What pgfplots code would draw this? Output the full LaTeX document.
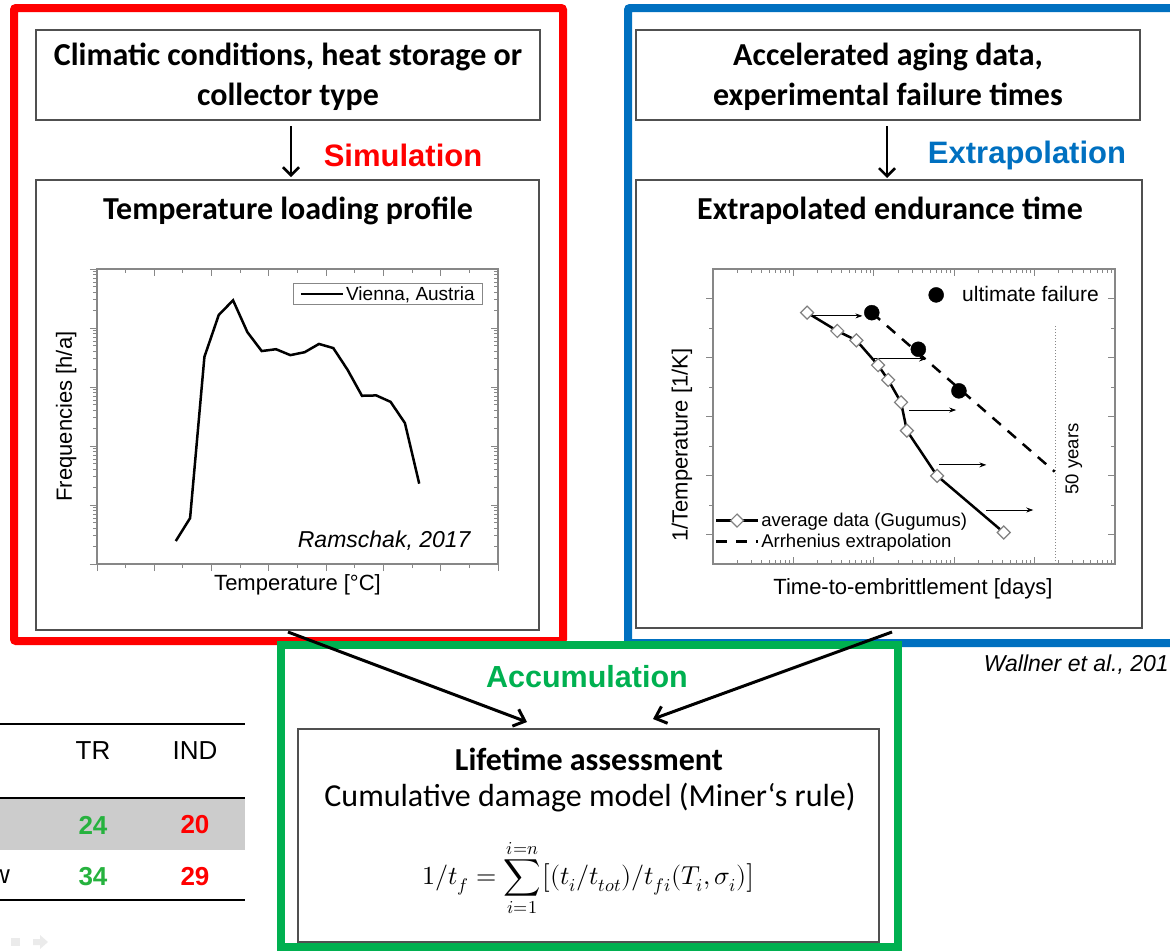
\documentclass[border=0pt]{standalone}
\usepackage{fontspec}
\usepackage{unicode-math}
\setmainfont{Liberation Sans}
\setmathfont{Latin Modern Math}
\newfontfamily\calibri{Carlito}
\usepackage{pgfplots}
\usepackage{pgfplotstable}
\pgfplotsset{compat=1.18}
\usetikzlibrary{arrows.meta}

\definecolor{frRed}{RGB}{255,0,0}
\definecolor{frBlue}{RGB}{0,112,192}
\definecolor{frGreen}{RGB}{0,176,80}
\definecolor{tabGreen}{RGB}{38,178,62}
\definecolor{boxGray}{RGB}{80,80,80}
\definecolor{axGray}{RGB}{135,135,135}
\newcommand{\fs}[2]{\fontsize{#1}{#2}\selectfont}

% temperature loading profile (Vienna)
\pgfplotstableread{
T F
27.5 0.245
32.5 0.60
37.5 324
42.5 1660
47.5 2950
52.5 851
57.5 407
62.5 437
67.5 347
72.5 389
77.5 537
82.5 457
87.5 195
92.5 71
97.5 72
102.5 56
107.5 24.5
112.5 2.3
}\vienna

% average data (Gugumus)
\pgfplotstableread{
t invT
14.8 0.003252
35.2 0.003190
60.8 0.003158
113 0.003074
151 0.003024
218 0.002948
258 0.002852
613 0.002699
4130 0.002507
}\gugumus

% ultimate failure
\pgfplotstableread{
t invT
94.4 0.003252
358 0.003128
1145 0.002987
}\failure

\pgfplotsset{
  panel/.style={
    scale only axis, anchor=south west,
    axis line style={axGray, line width=1.2pt},
    tick style={axGray, line width=1pt},
    major tick length=7pt, minor tick length=4pt,
    xticklabel=\empty, yticklabel=\empty,
    scaled x ticks=false, scaled y ticks=false,
    label style={font=\fs{22}{26}},
  },
}

\begin{document}
\begin{tikzpicture}
\useasboundingbox (0,0) rectangle (1170pt,-951pt);
\begin{scope}[x=1pt,y=-1pt]
  % table fragment on the left
  \fill[black!20] (0,798) rectangle (245,850);
  \draw[line width=2.5pt] (0,724) -- (245,724);
  \draw[line width=2.5pt] (0,798) -- (245,798);
  \draw[line width=2.5pt] (0,900) -- (245,900);
  \node[font=\fs{26}{30}] at (93,751) {TR};
  \node[font=\fs{26}{30}] at (195,751) {IND};
  \node[font=\fs{26}{30}\bfseries, text=tabGreen] at (93,825) {24};
  \node[font=\fs{26}{30}\bfseries, text=frRed] at (195,825) {20};
  \node[font=\fs{26}{30}, anchor=east, inner sep=0pt] at (10,877) {w};
  \node[font=\fs{26}{30}\bfseries, text=tabGreen] at (93,877) {34};
  \node[font=\fs{26}{30}\bfseries, text=frRed] at (195,877) {29};
  \fill[black!8] (11,938) rectangle (20,946);
  \fill[black!8] (33,939) -- (40,939) -- (40,935) -- (48,942) -- (40,949) -- (40,945) -- (33,945) -- cycle;

  % coloured frames
  \draw[frRed, line width=8pt, rounded corners=2pt] (14,8) rectangle (563,641);
  \draw[frBlue, line width=8pt, rounded corners=2pt] (628,8) rectangle (1200,643);
  \draw[frGreen, line width=8pt] (281,645) rectangle (898,947);

  % boxes
  \draw[boxGray, line width=2pt] (36,30) rectangle (540,120);
  \draw[boxGray, line width=2pt] (36,180) rectangle (539,630);
  \draw[boxGray, line width=2pt] (636,30) rectangle (1140,120);
  \draw[boxGray, line width=2pt] (636,180) rectangle (1142,628);
  \draw[boxGray, line width=2pt] (298,729) rectangle (879,942);

  \node[font=\calibri\bfseries\fs{32}{40}, align=center] at (288,77)
    {Climatic conditions, heat storage or\\collector type};
  \node[font=\calibri\bfseries\fs{32}{40}, align=center] at (888,77)
    {Accelerated aging data,\\experimental failure times};
  \node[font=\calibri\bfseries\fs{32}{40}] at (288,211) {Temperature loading profile};
  \node[font=\calibri\bfseries\fs{32}{40}] at (890,211) {Extrapolated endurance time};
  \node[font=\calibri\bfseries\fs{32}{40}] at (589,759) {Lifetime assessment};
  \node[font=\calibri\fs{32}{40}] at (590,798) {Cumulative damage model (Miner‘s rule)};
  \node[font=\fs{26}{30}] at (589,878)
    {$\displaystyle 1/t_f=\sum_{i=1}^{i=n}\bigl[(t_i/t_{tot})/t_{fi}(T_i,\sigma_i)\bigr]$};

  \node[font=\bfseries\fs{31}{35}, text=frRed] at (403,155) {Simulation};
  \node[font=\bfseries\fs{31}{35}, text=frBlue] at (1027,155) {Extrapolation};
  \node[font=\bfseries\fs{30.5}{35}, text=frGreen] at (587,677) {Accumulation};

  \node[font=\fs{23}{26}\itshape, anchor=east] at (474,541) {Ramschak, 2017};
  \node[font=\fs{23}{26}\itshape, anchor=east, inner sep=0pt] at (1169,665) {Wallner et al., 201};

  % arrows
  \draw[line width=2.5pt, -{Straight Barb[length=8pt,width=16pt]}] (291,126) -- (291,177);
  \draw[line width=2.5pt, -{Straight Barb[length=8pt,width=16pt]}] (887,126) -- (887,178);
  \draw[line width=3pt, -{Straight Barb[length=10pt,width=18pt]}] (288,632) -- (527,722);
  \draw[line width=3pt, -{Straight Barb[length=10pt,width=18pt]}] (892,632) -- (653,719);
\end{scope}

% ---------- temperature loading profile ----------
\begin{axis}[panel, at={(97pt,-564pt)}, width=401pt, height=295pt,
  xmin=0, xmax=140, ymode=log, ymin=0.1, ymax=10000,
  xtick={0,20,...,140}, minor x tick num=1,
  tick align=outside, xtick pos=left, ytick pos=left,
  xlabel={Temperature [°C]}, ylabel={Frequencies [h/a]},
  xlabel style={at={(axis description cs:0.5,-0.071)}, anchor=center},
  ylabel style={at={(axis description cs:-0.077,0.5)}, anchor=center},
  legend style={at={(axis description cs:0.963,0.953)}, anchor=north east,
    draw=axGray, line width=1pt, fill=white, inner xsep=6pt, inner ysep=1pt,
    font=\fs{19}{21}, cells={anchor=west}},
  legend image code/.code={\draw[#1] (0pt,0pt) -- (42pt,0pt);},
]
\addplot[black, line width=2.5pt] table[x=T, y=F] {\vienna};
\addlegendentry{Vienna, Austria}
\end{axis}
\begin{axis}[panel, at={(97pt,-564pt)}, width=401pt, height=295pt,
  xmin=0, xmax=140, ymode=log, ymin=0.1, ymax=10000,
  xtick={0,20,...,140}, minor x tick num=1,
  tick align=inside, xtick pos=right, ytick pos=right]
\end{axis}

% ---------- extrapolated endurance time ----------
\begin{axis}[panel, at={(713pt,-564pt)}, width=402pt, height=295pt,
  xmode=log, xmin=1, xmax=100000, ymin=0.0024, ymax=0.0034,
  xtick=\empty,
  ytick={0.0025,0.0027,0.0029,0.0031,0.0033},
  minor ytick={0.0026,0.0028,0.0030,0.0032},
  tick align=outside, ytick pos=left,
  xlabel={Time-to-embrittlement [days]}, ylabel={1/Temperature [1/K]},
  xlabel style={at={(axis description cs:0.4975,-0.085)}, anchor=center},
  ylabel style={at={(axis description cs:-0.077,0.403)}, anchor=center},
  legend style={at={(axis description cs:0.004,0.18)}, anchor=north west,
    draw=none, fill=none, inner sep=0pt, row sep=2pt,
    font=\fs{18.5}{21}, cells={anchor=west}},
  legend image code/.code={\draw[mark repeat=2, mark phase=2, #1]
    plot coordinates {(0pt,0pt) (21pt,0pt) (42pt,0pt)};},
]
\addplot[axGray, dotted, line width=1pt, forget plot]
  coordinates {(18262,0.0024) (18262,0.003207)};
\addplot[black, line width=2.5pt, mark=square*, mark size=4.6pt,
  mark options={fill=white, draw=black!50, line width=1.2pt, solid, rotate=45}]
  table[x=t, y=invT] {\gugumus};
\addlegendentry{average data (Gugumus)}
\addplot[black, line width=2.5pt, dash pattern=on 11pt off 9pt]
  coordinates {(94.4,0.003252) (17783,0.002713)};
\addlegendentry{Arrhenius extrapolation}
\addplot[only marks, mark=*, mark size=7.5pt, black, forget plot]
  table[x=t, y=invT] {\failure};
\draw[line width=1pt, -{Stealth[length=7pt,width=5pt]}] (axis cs:17.9,0.003241) -- (axis cs:72.2,0.003241);
\draw[line width=1pt, -{Stealth[length=7pt,width=5pt]}] (axis cs:100.9,0.003095) -- (axis cs:446.7,0.003095);
\draw[line width=1pt, -{Stealth[length=7pt,width=5pt]}] (axis cs:276,0.002922) -- (axis cs:1059,0.002922);
\draw[line width=1pt, -{Stealth[length=7pt,width=5pt]}] (axis cs:655,0.002736) -- (axis cs:2512,0.002736);
\draw[line width=1pt, -{Stealth[length=7pt,width=5pt]}] (axis cs:2512,0.002583) -- (axis cs:9634,0.002583);
\node[rotate=90, font=\fs{18.5}{21}] at (axis cs:30725,0.002756) {50 years};
\end{axis}
\begin{axis}[panel, at={(713pt,-564pt)}, width=402pt, height=295pt,
  xmode=log, xmin=1, xmax=100000, ymin=0.0024, ymax=0.0034,
  ytick={0.0025,0.0027,0.0029,0.0031,0.0033},
  minor ytick={0.0026,0.0028,0.0030,0.0032},
  tick align=inside, xtick pos=both, ytick pos=right,
  legend style={at={(axis description cs:0.965,0.948)}, anchor=north east,
    draw=none, fill=none, inner sep=0pt, font=\fs{21}{24}},
  legend image code/.code={\path[draw=none] (0pt,0pt) -- (32pt,0pt);
    \fill (8pt,0pt) circle (7.5pt);},
]
\addlegendimage{black}
\addlegendentry{ultimate failure}
\end{axis}
\end{tikzpicture}
\end{document}
